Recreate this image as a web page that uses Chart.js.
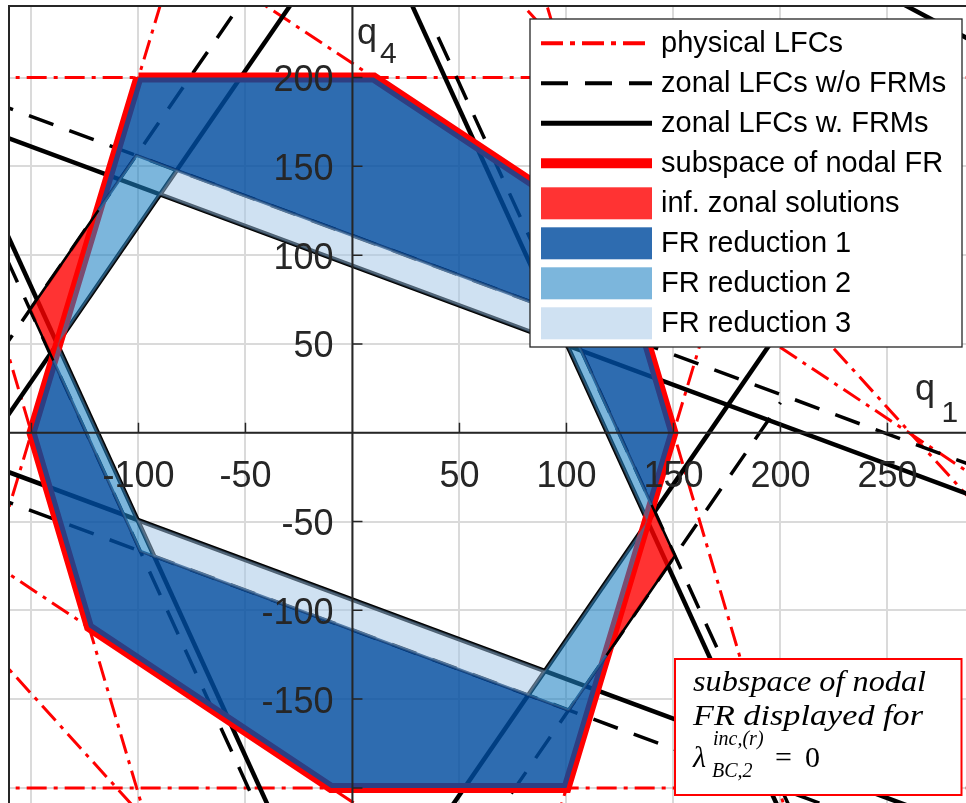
<!DOCTYPE html>
<html>
<head>
<meta charset="utf-8">
<script src="https://cdn.jsdelivr.net/npm/chart.js@4.4.1/dist/chart.umd.min.js"></script>
<style>
  html, body { margin: 0; padding: 0; background: #ffffff; overflow: hidden; }
  canvas { display: block; }
</style>
</head>
<body>
<canvas id="fr" width="966" height="803"></canvas>
<script>
// ---- axis ranges and ticks (q1 horizontal, q4 vertical, MW) ----
const xRange = [-160.5, 286.7];
const yRange = [-208.5, 240.3];
const xGrid = [-150, -100, -50, 0, 50, 100, 150, 200, 250];
const yGrid = [-200, -150, -100, -50, 0, 50, 100, 150, 200];
const xTickMarks = [-150, -100, -50, 50, 100, 150, 200, 250];
const yTickMarks = [-200, -150, -100, -50, 50, 100, 150, 200];
const xTickLabels = [-100, -50, 50, 100, 150, 200, 250];
const yTickLabels = [200, 150, 100, 50, -50, -100, -150];

// ---- line flow constraints, each as two end points [q1, q4] ----
const physicalLFCs = [
  [[-170, 200], [300, 200]],
  [[-170, -200], [300, -200]],
  [[-205, -220], [-85, 260]],
  [[85, -260], [205, 220]],
  [[-170, 344], [300, -32]],
  [[-170, -72], [300, -448]],
  [[86.1, 260], [204.1, -220]],
  [[-204.1, 220], [-86.1, -260]],
  [[70, 253.5], [300, -52.4]],
  [[-300, 52.4], [-70, -253.5]]
];
const zonalNoFRM = [
  [[-170, 187], [300, -23.1]],
  [[-170, -35], [300, -245.1]],
  [[-200, -17], [-40, 263]],
  [[40, -263], [200, 17]],
  [[-220, 252.3], [-40, -222.9]],
  [[40, 222.9], [220, -252.3]]
];
const zonalWithFRM = [
  [[-170, 170], [300, -40.1]],
  [[-170, -18], [300, -228.1]],
  [[-200, -58.5], [-20, 256.5]],
  [[20, -256.5], [200, 58.5]],
  [[-220, 266.6], [-20, -261.4]],
  [[20, 261.4], [220, -266.6]],
  [[230, 258.8], [300, 214]]
];

// ---- regions ----
const nodalFR = [[-100, 200], [10, 200], [123.1, 109.5], [150, 0], [100, -200], [-10, -200], [-123.1, -109.5], [-150, 0], [-100, 200]];
// outer octagon followed by the (reversed) zonal hexagon that forms its hole
const frReduction1 = [
  [-100, 200], [10, 200], [123.1, 109.5], [150, 0], [100, -200], [-10, -200], [-123.1, -109.5], [-150, 0], [-100, 200],
  [-101, 156.2], [-118.7, 125.3], [-139.8, 40.7], [-99.2, -66.7], [101, -156.2], [118.7, -125.3], [139.8, -40.7], [99.2, 66.7], [-101, 156.2]
];
const fr1EdgeA = [[-139.8, 40.7], [-99.2, -66.7], [101, -156.2], [118.7, -125.3]];
const fr1EdgeB = [[139.8, -40.7], [99.2, 66.7], [-101, 156.2], [-118.7, 125.3]];
const frReduction2Left = [[-101, 156.2], [-118.7, 125.3], [-139.8, 40.7], [-99.2, -66.7], [-92.7, -69.6], [-100.4, -49.1], [-138, 50], [-89.9, 134.2], [-82.2, 147.7], [-101, 156.2]];
const frReduction2Right = [[101, -156.2], [118.7, -125.3], [139.8, -40.7], [99.2, 66.7], [92.7, 69.6], [100.4, 49.1], [138, -50], [89.9, -134.2], [82.2, -147.7], [101, -156.2]];
const frReduction3Top = [[-82.2, 147.7], [92.7, 69.6], [100.4, 49.1], [-89.9, 134.2], [-82.2, 147.7]];
const frReduction3Bottom = [[82.2, -147.7], [-92.7, -69.6], [-100.4, -49.1], [89.9, -134.2], [82.2, -147.7]];
const infZonalLeft = [[-118.7, 125.3], [-150.7, 69.3], [-139.8, 40.7]];
const infZonalRight = [[118.7, -125.3], [150.7, -69.3], [139.8, -40.7]];

const legendLabels = ['physical LFCs', 'zonal LFCs w/o FRMs', 'zonal LFCs w. FRMs', 'subspace of nodal FR',
  'inf. zonal solutions', 'FR reduction 1', 'FR reduction 2', 'FR reduction 3'];

// ---- styles ----
const INK = '#262626';
const STY = {
  physical: { color: '#ff0000', width: 3, dash: [20, 7, 4, 7] },
  noFRM: { color: '#000000', width: 3.5, dash: [26, 17] },
  withFRM: { color: '#000000', width: 4.5, dash: [] },
  nodal: { color: '#ff0000', width: 10, dash: [] }
};
const RED_FILL = 'rgba(255,0,0,0.8)';
const FR1_FILL = 'rgba(0,76,159,0.82)';
const FR2_FILL = 'rgba(30,130,195,0.58)';
const FR3_FILL = 'rgba(160,195,230,0.5)';
const FR1_EDGE = 'rgba(0,52,120,0.9)';
const BAND_EDGE = 'rgba(80,110,140,0.45)';

const pts = arr => arr.map(([x, y]) => ({ x, y }));
const lineSet = (p, s) => ({
  data: pts(p), borderColor: s.color, borderWidth: s.width, borderDash: s.dash,
  fill: false, pointRadius: 0, clip: 0
});
const patchSet = (p, fillColor, edge, edgeWidth) => ({
  data: pts(p), backgroundColor: fillColor, borderColor: edge || 'rgba(0,0,0,0)',
  borderWidth: edgeWidth || 0, fill: 'shape', pointRadius: 0, clip: 0
});

// bottom-most first
const layers = [];
physicalLFCs.forEach(l => layers.push(lineSet(l, STY.physical)));
zonalNoFRM.forEach(l => layers.push(lineSet(l, STY.noFRM)));
zonalWithFRM.forEach(l => layers.push(lineSet(l, STY.withFRM)));
layers.push(lineSet(nodalFR, STY.nodal));
layers.push(patchSet(frReduction1, FR1_FILL));
layers.push(lineSet(fr1EdgeA, { color: FR1_EDGE, width: 3, dash: [] }));
layers.push(lineSet(fr1EdgeB, { color: FR1_EDGE, width: 3, dash: [] }));
layers.push(patchSet(frReduction2Left, FR2_FILL, BAND_EDGE, 2));
layers.push(patchSet(frReduction2Right, FR2_FILL, BAND_EDGE, 2));
layers.push(patchSet(frReduction3Top, FR3_FILL, BAND_EDGE, 2));
layers.push(patchSet(frReduction3Bottom, FR3_FILL, BAND_EDGE, 2));
layers.push(patchSet(infZonalLeft, RED_FILL, '#000000', 2.5));
layers.push(patchSet(infZonalRight, RED_FILL, '#000000', 2.5));
const datasets = layers.map((d, i) => Object.assign(d, { order: layers.length - i }));

function fitText(ctx, text, x, y, w) {
  const m = ctx.measureText(text).width;
  ctx.save();
  ctx.translate(x, y);
  ctx.scale(w / m, 1);
  ctx.fillText(text, 0, 0);
  ctx.restore();
}

const overlay = {
  id: 'overlay',
  afterDraw(chart) {
    const { ctx, chartArea: a } = chart;
    const xs = chart.scales.x, ys = chart.scales.y;
    const px = v => xs.getPixelForValue(v);
    const py = v => ys.getPixelForValue(v);
    const x0 = px(0), y0 = py(0);
    const sans = '"Liberation Sans", Arial, Helvetica, sans-serif';
    const serif = '"Liberation Serif", "Times New Roman", serif';
    ctx.save();

    // box (left/top visible) and axes through the origin
    ctx.strokeStyle = INK;
    ctx.lineWidth = 2;
    ctx.setLineDash([]);
    ctx.beginPath();
    ctx.moveTo(a.left, a.bottom); ctx.lineTo(a.left, a.top); ctx.lineTo(a.right, a.top);
    ctx.moveTo(a.left, y0); ctx.lineTo(a.right, y0);
    ctx.moveTo(x0, a.top); ctx.lineTo(x0, a.bottom);
    ctx.stroke();
    ctx.lineWidth = 1.5;
    ctx.beginPath();
    xTickMarks.forEach(v => { ctx.moveTo(px(v), y0); ctx.lineTo(px(v), y0 - 10); });
    yTickMarks.forEach(v => { ctx.moveTo(x0, py(v)); ctx.lineTo(x0 + 10, py(v)); });
    ctx.stroke();

    // tick labels
    ctx.fillStyle = INK;
    ctx.font = '36px ' + sans;
    ctx.textBaseline = 'alphabetic';
    ctx.textAlign = 'center';
    xTickLabels.forEach(v => ctx.fillText(String(v), px(v), y0 + 54));
    ctx.textAlign = 'right';
    yTickLabels.forEach(v => ctx.fillText(String(v), x0 - 19, py(v) + 13.5));

    // axis names
    ctx.textAlign = 'left';
    ctx.font = '36px ' + sans;
    ctx.fillText('q', x0 + 4.5, a.top + 38);
    ctx.fillText('q', a.right - 51, y0 - 32.5);
    ctx.font = '30px ' + sans;
    ctx.fillText('4', x0 + 27.5, a.top + 57);
    ctx.fillText('1', a.right - 24.5, y0 - 11);

    // legend
    const L = { left: a.right - 436, top: a.top + 13, w: 432, h: 328 };
    ctx.fillStyle = '#ffffff';
    ctx.fillRect(L.left, L.top, L.w, L.h);
    ctx.strokeStyle = INK;
    ctx.lineWidth = 1.3;
    ctx.strokeRect(L.left, L.top, L.w, L.h);
    const sx0 = L.left + 11, sx1 = L.left + 122;
    const lineSamples = [
      { color: STY.physical.color, width: 4, dash: [22, 7, 5, 7] },
      { color: STY.noFRM.color, width: 4, dash: [27, 17] },
      { color: STY.withFRM.color, width: 5, dash: [] },
      { color: STY.nodal.color, width: 10, dash: [] }
    ];
    const boxSamples = [RED_FILL, FR1_FILL, FR2_FILL, FR3_FILL];
    legendLabels.forEach((label, i) => {
      const cy = L.top + 24.3 + 40 * i;
      if (i < 4) {
        const s = lineSamples[i];
        ctx.save();
        ctx.strokeStyle = s.color;
        ctx.lineWidth = s.width;
        ctx.setLineDash(s.dash);
        ctx.beginPath();
        ctx.moveTo(sx0, cy); ctx.lineTo(sx1, cy);
        ctx.stroke();
        ctx.restore();
      } else {
        ctx.fillStyle = boxSamples[i - 4];
        ctx.fillRect(sx0, cy - 16, sx1 - sx0, 32);
      }
      ctx.fillStyle = '#000000';
      ctx.font = '29px ' + sans;
      ctx.textAlign = 'left';
      ctx.textBaseline = 'middle';
      ctx.fillText(label, L.left + 131, cy + 1);
    });

    // note box
    const N = { left: a.right - 291, top: 659, w: 286.5, h: 136 };
    ctx.fillStyle = '#ffffff';
    ctx.fillRect(N.left, N.top, N.w, N.h);
    ctx.strokeStyle = '#ff0000';
    ctx.lineWidth = 2;
    ctx.strokeRect(N.left, N.top, N.w, N.h);
    ctx.fillStyle = '#000000';
    ctx.textBaseline = 'alphabetic';
    ctx.textAlign = 'left';
    const tx = N.left + 18;
    ctx.font = 'italic 30px ' + serif;
    fitText(ctx, 'subspace of nodal', tx, N.top + 32, 233);
    fitText(ctx, 'FR displayed for', tx, N.top + 66, 230);
    ctx.fillText('\u03bb', tx, N.top + 108);
    ctx.font = 'italic 20px ' + serif;
    ctx.fillText('inc,(r)', tx + 20, N.top + 86);
    ctx.fillText('BC,2', tx + 19, N.top + 118);
    ctx.font = '30px ' + serif;
    ctx.fillText('=', tx + 82, N.top + 108);
    ctx.fillText('0', tx + 112, N.top + 108);

    ctx.restore();
  }
};

new Chart(document.getElementById('fr'), {
  type: 'line',
  data: { datasets },
  options: {
    responsive: false,
    animation: false,
    events: [],
    layout: { padding: { left: 9, top: 6, right: 0, bottom: 0 } },
    elements: { point: { radius: 0 }, line: { tension: 0 } },
    plugins: { legend: { display: false }, tooltip: { enabled: false } },
    scales: {
      x: {
        type: 'linear', min: xRange[0], max: xRange[1],
        afterBuildTicks: s => { s.ticks = xGrid.map(v => ({ value: v })); },
        ticks: { display: false },
        grid: { color: '#dadada', lineWidth: 2, drawTicks: false },
        border: { display: false }
      },
      y: {
        type: 'linear', min: yRange[0], max: yRange[1],
        afterBuildTicks: s => { s.ticks = yGrid.map(v => ({ value: v })); },
        ticks: { display: false },
        grid: { color: '#dadada', lineWidth: 2, drawTicks: false },
        border: { display: false }
      }
    }
  },
  plugins: [overlay]
});
</script>
</body>
</html>
